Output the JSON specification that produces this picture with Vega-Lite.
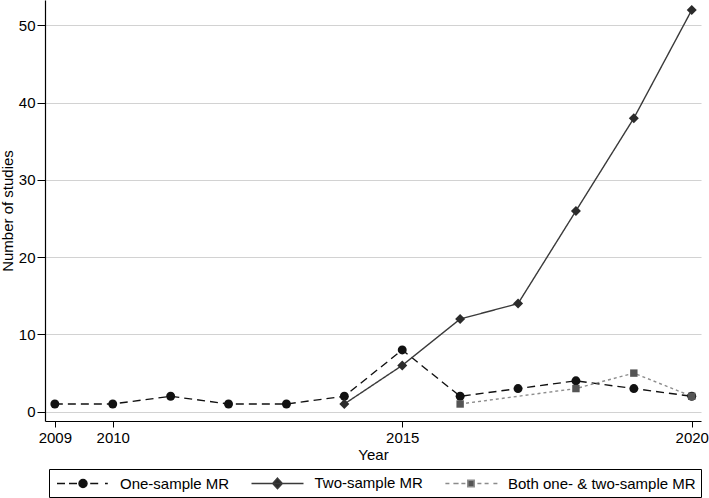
{
  "$schema": "https://vega.github.io/schema/vega-lite/v6.json",
  "width": 656,
  "height": 421,
  "autosize": {"type": "none"},
  "padding": {"left": 45, "top": 0, "right": 8, "bottom": 77},
  "background": "white",
  "config": {
    "view": {"stroke": null},
    "font": "Liberation Sans",
    "axis": {
      "labelFont": "Liberation Sans",
      "titleFont": "Liberation Sans",
      "labelFontSize": 15,
      "titleFontSize": 15,
      "labelColor": "black",
      "titleColor": "black",
      "titleFontWeight": "normal",
      "domainColor": "black",
      "domainWidth": 1.2,
      "tickColor": "black",
      "tickSize": 6,
      "tickWidth": 1,
      "labelFlush": false,
      "labelOverlap": false
    }
  },
  "data": {
    "values": [
      {"year": 2009, "series": "One-sample MR", "n": 1},
      {"year": 2010, "series": "One-sample MR", "n": 1},
      {"year": 2011, "series": "One-sample MR", "n": 2},
      {"year": 2012, "series": "One-sample MR", "n": 1},
      {"year": 2013, "series": "One-sample MR", "n": 1},
      {"year": 2014, "series": "One-sample MR", "n": 2},
      {"year": 2015, "series": "One-sample MR", "n": 8},
      {"year": 2016, "series": "One-sample MR", "n": 2},
      {"year": 2017, "series": "One-sample MR", "n": 3},
      {"year": 2018, "series": "One-sample MR", "n": 4},
      {"year": 2019, "series": "One-sample MR", "n": 3},
      {"year": 2020, "series": "One-sample MR", "n": 2},
      {"year": 2014, "series": "Two-sample MR", "n": 1},
      {"year": 2015, "series": "Two-sample MR", "n": 6},
      {"year": 2016, "series": "Two-sample MR", "n": 12},
      {"year": 2017, "series": "Two-sample MR", "n": 14},
      {"year": 2018, "series": "Two-sample MR", "n": 26},
      {"year": 2019, "series": "Two-sample MR", "n": 38},
      {"year": 2020, "series": "Two-sample MR", "n": 52},
      {"year": 2016, "series": "Both one- & two-sample MR", "n": 1},
      {"year": 2018, "series": "Both one- & two-sample MR", "n": 3},
      {"year": 2019, "series": "Both one- & two-sample MR", "n": 5},
      {"year": 2020, "series": "Both one- & two-sample MR", "n": 2}
    ]
  },
  "encoding": {
    "x": {
      "field": "year",
      "type": "quantitative",
      "scale": {"domain": [2008.83, 2020.16], "nice": false, "zero": false},
      "axis": {
        "title": "Year",
        "values": [2009, 2010, 2015, 2020],
        "format": "d",
        "grid": false,
        "labelPadding": 3,
        "titlePadding": 2
      }
    },
    "y": {
      "field": "n",
      "type": "quantitative",
      "scale": {"domain": [-1.2, 53.3], "nice": false, "zero": false},
      "axis": {
        "title": "Number of studies",
        "values": [0, 10, 20, 30, 40, 50],
        "grid": true,
        "gridColor": "#d2d2d2",
        "gridWidth": 1.2,
        "labelAngle": 0,
        "tickSize": 8,
        "labelPadding": 2,
        "titlePadding": 3
      }
    }
  },
  "layer": [
    {
      "mark": {"type": "line", "strokeWidth": 1.4},
      "encoding": {
        "stroke": {
          "field": "series",
          "type": "nominal",
          "scale": {
            "domain": ["Both one- & two-sample MR", "One-sample MR", "Two-sample MR"],
            "range": ["#8c8c8c", "#111111", "#3a3a3a"]
          },
          "legend": null
        },
        "strokeDash": {
          "field": "series",
          "type": "nominal",
          "scale": {
            "domain": ["Both one- & two-sample MR", "One-sample MR", "Two-sample MR"],
            "range": [[3, 3], [8, 5], [1, 0]]
          },
          "legend": null
        }
      }
    },
    {
      "transform": [{"filter": "datum.series === 'One-sample MR'"}],
      "mark": {"type": "point", "filled": true, "opacity": 1, "shape": "circle", "size": 80, "color": "#111111"}
    },
    {
      "transform": [{"filter": "datum.series === 'Two-sample MR'"}],
      "mark": {"type": "point", "filled": true, "opacity": 1, "shape": "diamond", "size": 100, "color": "#2b2b2b"}
    },
    {
      "transform": [{"filter": "datum.series === 'Both one- & two-sample MR'"}],
      "mark": {"type": "point", "filled": true, "opacity": 1, "shape": "square", "size": 55, "color": "#555555"}
    },
    {
      "transform": [{"filter": "false"}],
      "mark": {"type": "point", "filled": true, "opacity": 1},
      "encoding": {
        "shape": {
          "field": "series",
          "type": "nominal",
          "scale": {
            "domain": ["One-sample MR", "Two-sample MR", "Both one- & two-sample MR"],
            "range": [
              "M-3.25,0H-2.25M-1.75,0H-0.75M0.9,0H1.9M2.75,0H3.1M0.5,0A0.5,0.5,0,1,1,-0.5,0A0.5,0.5,0,1,1,0.5,0Z",
              "M-3.25,0H3.25M0,-0.65L0.6,0L0,0.65L-0.6,0Z",
              "M-3.2,0H-2.7M-2.2,0H-1.55M-1.2,0H-0.7M0.8,0H1.3M1.7,0H2.2M2.8,0H3.3M-0.4,-0.4H0.4V0.4H-0.4Z"
            ]
          },
          "legend": {
            "orient": "none",
            "legendX": 4,
            "legendY": 469,
            "direction": "horizontal",
            "title": null,
            "strokeColor": "black",
            "padding": 5,
            "labelFont": "Liberation Sans",
            "labelFontSize": 15,
            "labelColor": "black",
            "labelLimit": 400,
            "symbolSize": 256,
            "symbolStrokeWidth": 1.5,
            "symbolOffset": 20,
            "labelOffset": 28,
            "columnPadding": 18.5,
            "encoding": {
              "symbols": {
                "fill": {"value": {"expr": "datum.value === 'One-sample MR' ? '#111111' : datum.value === 'Two-sample MR' ? '#2b2b2b' : '#555555'"}},
                "stroke": {"value": {"expr": "datum.value === 'One-sample MR' ? '#111111' : datum.value === 'Two-sample MR' ? '#3a3a3a' : '#8c8c8c'"}},
                "strokeWidth": {"value": 1.5},
                "opacity": {"value": 1}
              }
            }
          }
        }
      }
    }
  ]
}
